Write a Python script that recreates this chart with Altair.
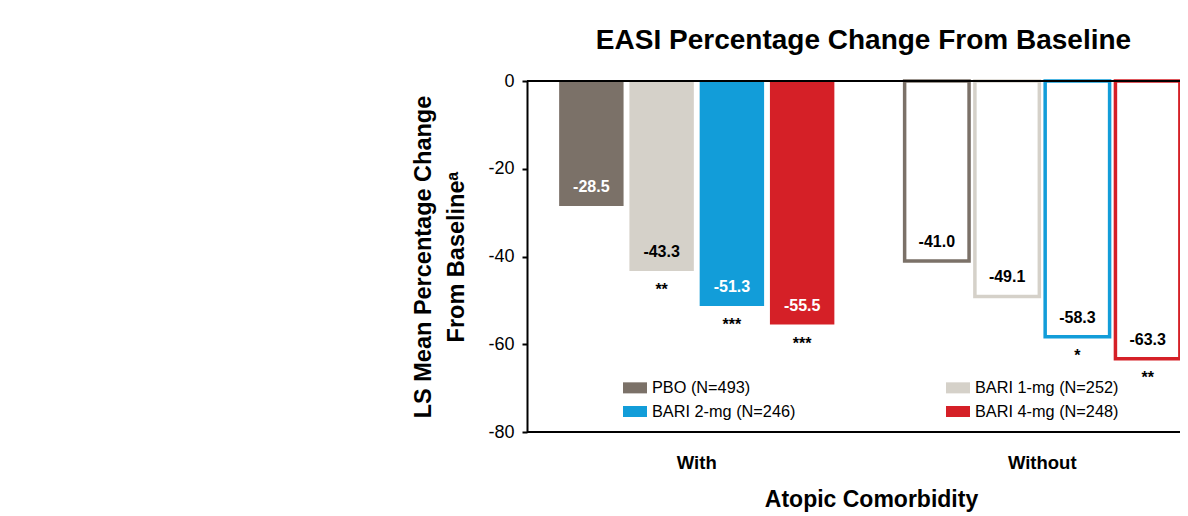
import altair as alt
import pandas as pd

groups = ["With", "Without"]
treatments = ["PBO (N=493)", "BARI 1-mg (N=252)", "BARI 2-mg (N=246)", "BARI 4-mg (N=248)"]
with_values = [-28.5, -43.3, -51.3, -55.5]
without_values = [-41.0, -49.1, -58.3, -63.3]
with_sig = ["", "**", "***", "***"]
without_sig = ["", "", "*", "**"]
colors = ["#7b7168", "#d5d1c9", "#129dd9", "#d52027"]
y_ticks = [0, -20, -40, -60, -80]

# legend fills column by column: order entries so rows read PBO / BARI 1-mg, BARI 2-mg / BARI 4-mg
legend_order = [0, 2, 1, 3]
legend_domain = [treatments[i] for i in legend_order]
legend_colors = [colors[i] for i in legend_order]

rows = []
for g, vals, sigs in [("With", with_values, with_sig), ("Without", without_values, without_sig)]:
    for t, v, s in zip(treatments, vals, sigs):
        rows.append({"group": g, "treatment": t, "value": v, "sig": s, "label": f"{v:.1f}"})
df = pd.DataFrame(rows)

FONT = "Liberation Sans"

x_enc = alt.X(
    "group:N",
    sort=groups,
    scale=alt.Scale(range=[-3, 688], paddingInner=0, paddingOuter=0),
    axis=alt.Axis(
        title="Atopic Comorbidity",
        titleFontSize=23,
        titleFontWeight="bold",
        titleColor="black",
        titlePadding=17,
        titleX=344,
        labelAngle=0,
        labelFontSize=18.5,
        labelFontWeight="bold",
        labelColor="black",
        labelPadding=21,
        ticks=False,
        tickSize=0,
        domain=False,
    ),
)
xoff_enc = alt.XOffset(
    "treatment:N", sort=treatments, scale=alt.Scale(paddingInner=0.083, paddingOuter=0.5)
)
y_enc = alt.Y(
    "value:Q",
    scale=alt.Scale(domain=[-80, 0], nice=False),
    axis=alt.Axis(
        values=y_ticks,
        labelExpr="toString(datum.value)",
        title=["LS Mean Percentage Change", "From Baseline\u1d43"],
        titleFontSize=23.5,
        titleFontWeight="bold",
        titleColor="black",
        titleLineHeight=33,
        titlePadding=19,
        labelFontSize=18,
        labelColor="black",
        labelPadding=8,
        tickSize=5,
        tickWidth=2,
        tickColor="black",
        domainColor="black",
        domainWidth=2,
        grid=False,
    ),
)

base = alt.Chart(df)

bars_with = base.transform_filter(alt.datum.group == "With").mark_bar().encode(
    x=x_enc,
    xOffset=xoff_enc,
    y=y_enc,
    fill=alt.Fill(
        "treatment:N",
        scale=alt.Scale(domain=legend_domain, range=legend_colors),
        legend=alt.Legend(
            title=None,
            orient="none",
            legendX=96,
            legendY=294.5,
            columns=2,
            columnPadding=150,
            rowPadding=3,
            symbolType="M-1,-0.46H1V0.46H-1Z",
            symbolSize=576,
            symbolStrokeWidth=0,
            symbolOpacity=1,
            labelFontSize=16.3,
            labelColor="black",
            labelOffset=5,
            labelLimit=400,
            padding=0,
        ),
    ),
)

bars_without = base.transform_filter(alt.datum.group == "Without").mark_bar(
    fill="white", strokeWidth=3.5
).encode(
    x=x_enc,
    xOffset=xoff_enc,
    y=y_enc,
    stroke=alt.Stroke(
        "treatment:N",
        scale=alt.Scale(domain=treatments, range=colors),
        legend=None,
    ),
)

rules = alt.Chart(pd.DataFrame({"v": [0, -80]})).mark_rule(color="black", strokeWidth=2).encode(
    y=alt.Y("v:Q")
)

labels = base.mark_text(
    fontSize=16, fontWeight="bold", baseline="middle", dy=-19
).encode(
    x=x_enc,
    xOffset=xoff_enc,
    y=y_enc,
    text="label:N",
    color=alt.condition(
        "datum.group == 'With' && datum.treatment != 'BARI 1-mg (N=252)'",
        alt.value("white"),
        alt.value("black"),
    ),
)

sigs = base.transform_filter(alt.datum.sig != "").mark_text(
    fontSize=16, fontWeight="bold", baseline="middle", dy=19, color="black"
).encode(
    x=x_enc,
    xOffset=xoff_enc,
    y=y_enc,
    text="sig:N",
)

chart = (
    alt.layer(bars_with, bars_without, rules, labels, sigs)
    .resolve_scale(fill="independent", stroke="independent")
    .properties(
        width=653,
        height=351,
        autosize=alt.AutoSizeParams(type="none"),
        padding={"left": 519, "top": 73, "right": 0, "bottom": 84},
        title=alt.Title(
            "EASI Percentage Change From Baseline",
            fontSize=28,
            fontWeight="bold",
            color="black",
            anchor="middle",
            baseline="alphabetic",
            offset=30,
            dx=10,
            dy=35,
        ),
    )
    .configure(font=FONT, background="white")
    .configure_view(stroke=None)
)

chart.save("out.html", embed_options={"renderer": "svg", "actions": False})
